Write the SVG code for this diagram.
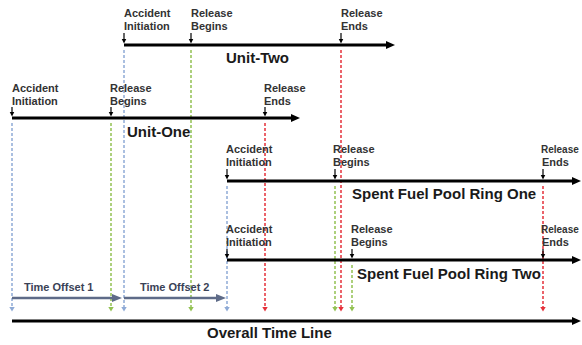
<svg xmlns="http://www.w3.org/2000/svg" width="582" height="345" viewBox="0 0 582 345">
<style>
.lbl{font-family:"Liberation Sans",Arial,sans-serif;font-weight:bold;font-size:11px;fill:#333}
.nar{font-size:10px}
.big{font-family:"Liberation Sans",Arial,sans-serif;font-weight:bold;font-size:15px;fill:#1a1a1a}
.off{font-family:"Liberation Sans",Arial,sans-serif;font-weight:bold;font-size:11px;fill:#3a4256}
.tl{stroke:#000;stroke-width:3;fill:none;marker-end:url(#big)}
.tick{stroke:#000;stroke-width:1.2;fill:none;marker-end:url(#tk)}
.dash{stroke-width:1.5;stroke-dasharray:3 2;fill:none}
.b{stroke:#8eaad6;marker-end:url(#mb)}
.g{stroke:#92c152;marker-end:url(#mg)}
.r{stroke:#e5303a;marker-end:url(#mr)}
.offa{stroke:#5e6b88;stroke-width:2.5;fill:none;marker-end:url(#mo)}
</style>
<defs>
<marker id="big" markerUnits="userSpaceOnUse" markerWidth="10" markerHeight="10" refX="1" refY="4" orient="auto"><path d="M0,0 L9,4 L0,8 z" fill="#000"/></marker>
<marker id="tk" markerUnits="userSpaceOnUse" markerWidth="6" markerHeight="6" refX="0.5" refY="2.5" orient="auto"><path d="M0,0 L5,2.5 L0,5 z" fill="#000"/></marker>
<marker id="mb" markerUnits="userSpaceOnUse" markerWidth="6" markerHeight="7" refX="0.5" refY="3" orient="auto"><path d="M0,0 L5,3 L0,6 z" fill="#8eaad6"/></marker>
<marker id="mg" markerUnits="userSpaceOnUse" markerWidth="6" markerHeight="7" refX="0.5" refY="3" orient="auto"><path d="M0,0 L5,3 L0,6 z" fill="#92c152"/></marker>
<marker id="mr" markerUnits="userSpaceOnUse" markerWidth="6" markerHeight="7" refX="0.5" refY="3" orient="auto"><path d="M0,0 L5,3 L0,6 z" fill="#e5303a"/></marker>
<marker id="mo" markerUnits="userSpaceOnUse" markerWidth="10" markerHeight="10" refX="1" refY="4" orient="auto"><path d="M0,0 L10,4 L0,8 z" fill="#5e6b88"/></marker>
</defs>
<rect width="582" height="345" fill="#fff"/>

<g id="connectors">
<line class="dash b" x1="12" y1="123" x2="12" y2="307"/>
<line class="dash g" x1="111" y1="123" x2="111" y2="307"/>
<line class="dash b" x1="124" y1="50" x2="124" y2="307"/>
<line class="dash g" x1="191" y1="50" x2="191" y2="307"/>
<line class="dash b" x1="227" y1="186" x2="227" y2="307"/>
<line class="dash r" x1="265" y1="123" x2="265" y2="307"/>
<line class="dash g" x1="335" y1="186" x2="335" y2="307"/>
<line class="dash r" x1="341" y1="50" x2="341" y2="307"/>
<line class="dash g" x1="352" y1="265" x2="352" y2="307"/>
<line class="dash r" x1="543" y1="186" x2="543" y2="307"/>
<line class="offa" x1="12" y1="298" x2="113" y2="298"/>
<line class="offa" x1="124" y1="298" x2="217" y2="298"/>
</g>

<g id="unit-two">
<line class="tl" x1="124" y1="45" x2="387" y2="45"/>
<text class="lbl" x="124" y="17">Accident</text><text class="lbl" x="124" y="30">Initiation</text>
<line class="tick" x1="124" y1="33" x2="124" y2="39"/>
<text class="lbl" x="191" y="17">Release</text><text class="lbl" x="191" y="30">Begins</text>
<line class="tick" x1="191" y1="33" x2="191" y2="39"/>
<text class="lbl" x="341" y="17">Release</text><text class="lbl" x="341" y="30">Ends</text>
<line class="tick" x1="341" y1="33" x2="341" y2="39"/>
<text class="big" x="226" y="63">Unit-Two</text>
</g>

<g id="unit-one">
<line class="tl" x1="12" y1="118" x2="292" y2="118"/>
<text class="lbl" x="12" y="92">Accident</text><text class="lbl" x="12" y="105">Initiation</text>
<line class="tick" x1="12" y1="107" x2="12" y2="112"/>
<text class="lbl" x="110" y="92">Release</text><text class="lbl" x="110" y="105">Begins</text>
<line class="tick" x1="111" y1="107" x2="111" y2="112"/>
<text class="lbl" x="264" y="92">Release</text><text class="lbl" x="264" y="105">Ends</text>
<line class="tick" x1="265" y1="107" x2="265" y2="112"/>
<text class="big" x="127" y="137">Unit-One</text>
</g>

<g id="sfp-ring-one">
<line class="tl" x1="227" y1="181" x2="573" y2="181"/>
<text class="lbl" x="226" y="153">Accident</text><text class="lbl" x="226" y="166">Initiation</text>
<line class="tick" x1="227" y1="169" x2="227" y2="175"/>
<text class="lbl" x="333" y="153">Release</text><text class="lbl" x="333" y="166">Begins</text>
<line class="tick" x1="335" y1="169" x2="335" y2="175"/>
<text class="lbl nar" x="541" y="153">Release</text><text class="lbl" x="542" y="166">Ends</text>
<line class="tick" x1="543" y1="169" x2="543" y2="175"/>
<text class="big" x="352" y="199">Spent Fuel Pool Ring One</text>
</g>

<g id="sfp-ring-two">
<line class="tl" x1="227" y1="260" x2="573" y2="260"/>
<text class="lbl" x="226" y="233">Accident</text><text class="lbl" x="226" y="246">Initiation</text>
<line class="tick" x1="227" y1="249" x2="227" y2="254"/>
<text class="lbl" x="351" y="233">Release</text><text class="lbl" x="351" y="246">Begins</text>
<line class="tick" x1="352" y1="249" x2="352" y2="254"/>
<text class="lbl nar" x="541" y="233">Release</text><text class="lbl" x="542" y="246">Ends</text>
<line class="tick" x1="543" y1="249" x2="543" y2="254"/>
<text class="big" x="357" y="279">Spent Fuel Pool Ring Two</text>
</g>

<g id="time-offsets">
<text class="off" x="24" y="291">Time Offset 1</text>
<text class="off" x="140" y="291">Time Offset 2</text>
</g>

<g id="overall-time-line">
<line class="tl" x1="12" y1="321" x2="573" y2="321"/>
<text class="big" x="207" y="338">Overall Time Line</text>
</g>
</svg>
